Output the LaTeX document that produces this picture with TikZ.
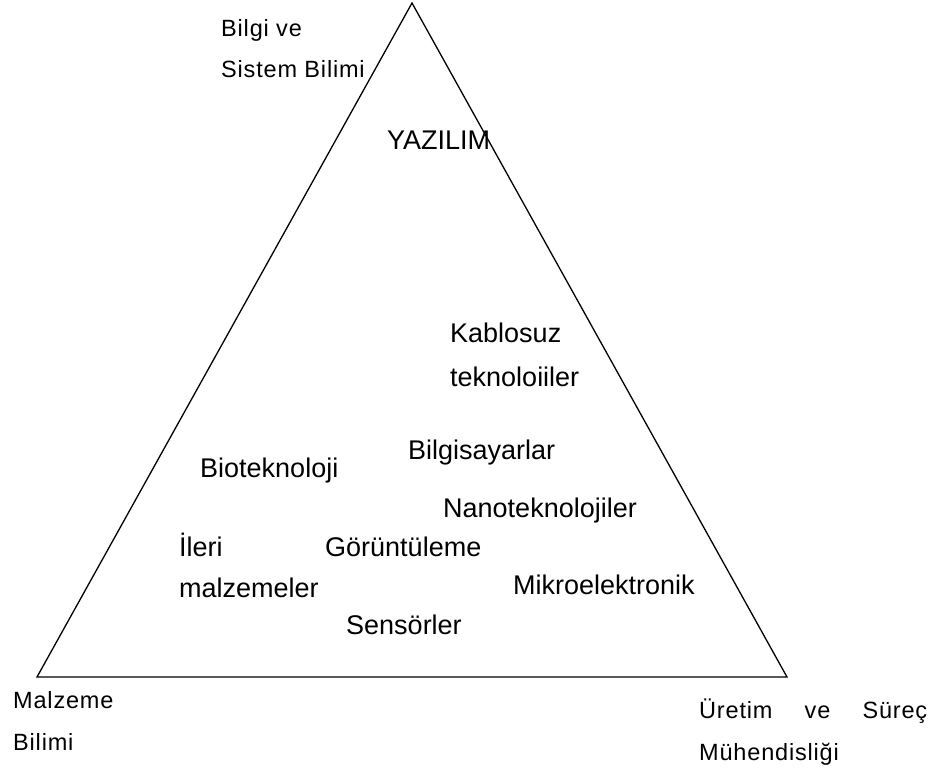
\documentclass[tikz,border=0pt]{standalone}
\usepackage{fontspec}
\setmainfont{Liberation Sans}
\begin{document}
\begin{tikzpicture}[x=1pt,y=-1pt,
  field/.style={font=\fontsize{27}{44}\selectfont, anchor=base west, inner sep=0pt, align=left},
  discipline/.style={font=\fontsize{23.5}{41.5}\selectfont\addfontfeature{LetterSpace=3.5}, anchor=base west, inner sep=0pt, align=left},
  edge/.style={draw=black, line width=1.3pt, line join=miter}]
\useasboundingbox (0,0) rectangle (928,773);

% corners of the triangle
\coordinate (apex) at (412,3);
\coordinate (left) at (37,677);
\coordinate (right) at (787,677);
\draw[edge] (apex) -- (left) -- (right) -- cycle;

% disciplines at the corners (multi-line nodes sit on their last baseline)
\node[discipline] (info) at (221,78) {Bilgi ve\\Sistem Bilimi};
\node[discipline] (material) at (13,750) {Malzeme\\Bilimi};
\node[discipline] (production) at (699,760) {\makebox[228pt][s]{Üretim ve Süreç}\\Mühendisliği};

% technologies inside the triangle
\node[field] (software) at (387,149) {YAZILIM};
\node[field] (wireless) at (450,386) {Kablosuz\\teknoloiiler};
\node[field] (computers) at (408,459) {Bilgisayarlar};
\node[field] (biotech) at (200,477) {Bioteknoloji};
\node[field] (nanotech) at (443,517) {Nanoteknolojiler};
\node[field, font=\fontsize{27}{41}\selectfont] (advanced) at (179,597) {İleri\\malzemeler};
\node[field] (imaging) at (325,556) {Görüntüleme};
\node[field] (microel) at (513,594) {Mikroelektronik};
\node[field] (sensors) at (346,634) {Sensörler};
\end{tikzpicture}
\end{document}
